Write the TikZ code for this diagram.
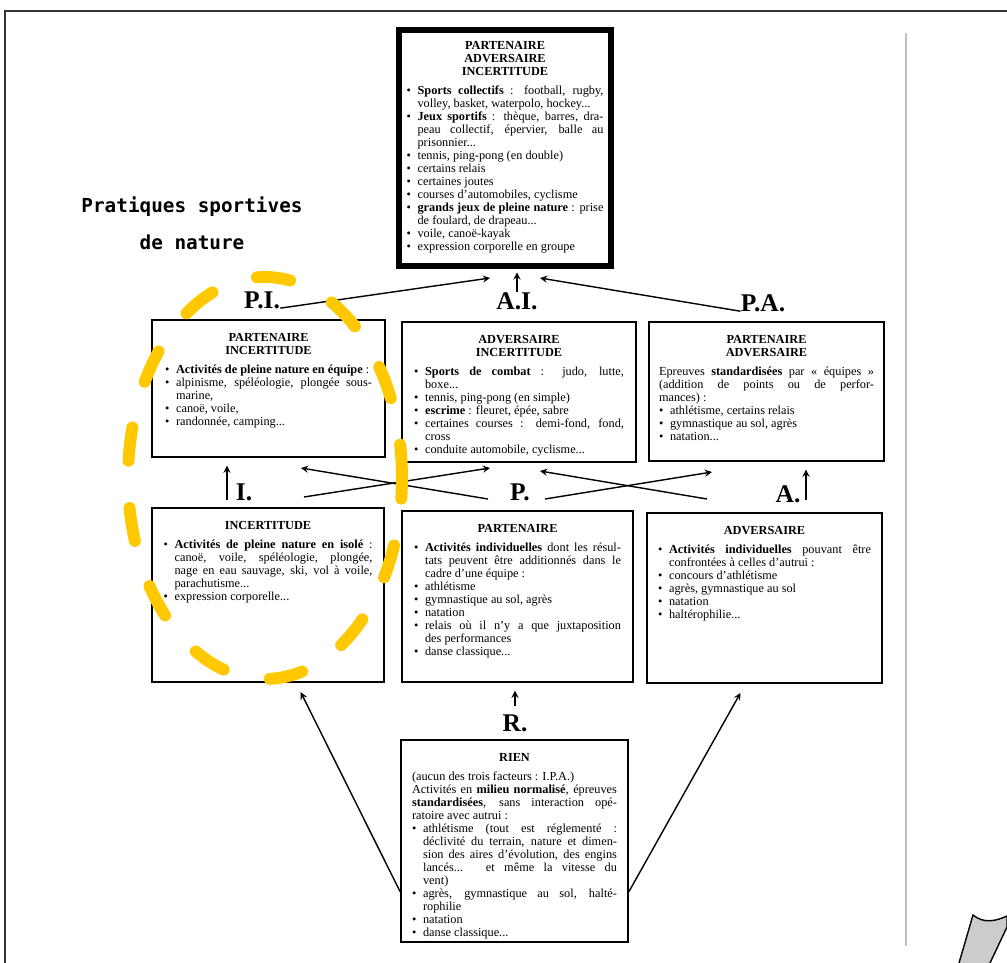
\documentclass[tikz,border=0pt]{standalone}
\usepackage{fontspec}
\setmainfont{Liberation Serif}
\newfontfamily\notefont{DejaVu Sans Mono}
\usetikzlibrary{positioning,calc}

\definecolor{jaune}{RGB}{255,200,0}
\newcommand\puce{\par\hangindent=.9em\hangafter=1\noindent\hbox to .9em{\textbullet\hfil}}
\newcommand\titre[1]{{\centering\bfseries #1\par}\vspace{3.5pt}}

\tikzset{
  boite/.style={draw, line width=.9pt, inner sep=0pt},
  corps/.style={inner sep=0pt, align=justify, font=\fontsize{7}{7.4}\selectfont\sloppy},
  etiq/.style={inner sep=0pt, font=\fontsize{14.5}{14.5}\selectfont\bfseries},
  note/.style={align=center, font=\notefont\fontsize{11}{21}\selectfont\bfseries},
  fleche/.style={->, line width=.8pt, shorten >=4.5pt},
}

\begin{document}
\begin{tikzpicture}[>=stealth, x=0.02cm, y=-0.02cm]
  \useasboundingbox (0,0) rectangle (1007,963);
  % cadre de la page
  \draw[line width=1.2pt, black!80] (5,963) -- (5,11) -- (1007,11);
  \draw[line width=1.2pt, black!25] (906,33) -- (906,946);
  \filldraw[fill=black!20, line width=.8pt] (959,963) -- (973,915) .. controls (984,924) and (996,921) .. (1007,916) -- (1007,927) -- (990,963);

  % boites
  \node[boite, line width=3.4pt, minimum width=4.24cm, minimum height=4.72cm] (top) at (505,148) {};
  \node[boite, minimum width=4.66cm, minimum height=2.74cm] (pi) at (268.5,388.5) {};
  \node[boite, minimum width=4.68cm, minimum height=2.80cm] (ai) at (519,392) {};
  \node[boite, minimum width=4.70cm, minimum height=2.78cm] (pa) at (766.5,391.5) {};
  \node[boite, minimum width=4.64cm, minimum height=3.48cm] (ib) at (268,595) {};
  \node[boite, minimum width=4.62cm, minimum height=3.42cm] (pb) at (517.5,596.5) {};
  \node[boite, minimum width=4.70cm, minimum height=3.40cm] (ab) at (764.5,598) {};
  \node[boite, minimum width=4.54cm, minimum height=4.04cm] (rb) at (514.5,841) {};

  % textes des boites
  \node[corps, text width=3.94cm, below=8pt of top.north] (ttop) {\titre{PARTENAIRE\par ADVERSAIRE\par INCERTITUDE}
    \puce\textbf{Sports collectifs}~: football, rugby,\linebreak volley, basket, waterpolo, hockey...
    \puce\textbf{Jeux sportifs}~: thèque, barres, dra-\linebreak peau collectif, épervier, balle au\linebreak prisonnier...
    \puce tennis, ping-pong (en double)
    \puce certains relais
    \puce certaines joutes
    \puce courses d'automobiles, cyclisme
    \puce\textbf{grands jeux de pleine nature}~: prise\linebreak de foulard, de drapeau...
    \puce voile, canoë-kayak
    \puce expression corporelle en groupe};
  \node[corps, text width=4.14cm, below=8pt of pi.north] (tpi) {\titre{PARTENAIRE\par INCERTITUDE}
    \puce\textbf{Activités de pleine nature en équipe}~:
    \puce alpinisme, spéléologie, plongée sous-\linebreak marine,
    \puce canoë, voile,
    \puce randonnée, camping...};
  \node[corps, text width=4.2cm, below=8pt of ai.north] (tai) {\titre{ADVERSAIRE\par INCERTITUDE}
    \puce\textbf{Sports de combat}~: judo, lutte,\linebreak boxe...
    \puce tennis, ping-pong (en simple)
    \puce\textbf{escrime}~: fleuret, épée, sabre
    \puce certaines courses~: demi-fond, fond,\linebreak cross
    \puce conduite automobile, cyclisme...};
  \node[corps, text width=4.3cm, below=8pt of pa.north] (tpa) {\titre{PARTENAIRE\par ADVERSAIRE}
    \noindent Epreuves \textbf{standardisées} par «~équipes~»\linebreak (addition de points ou de perfor-\linebreak mances)~:
    \puce athlétisme, certains relais
    \puce gymnastique au sol, agrès
    \puce natation...};
  \node[corps, text width=4.18cm, below=8pt of ib.north] (tib) {\titre{INCERTITUDE}
    \puce\textbf{Activités de pleine nature en isolé}~:\linebreak canoë, voile, spéléologie, plongée,\linebreak nage en eau sauvage, ski, vol à voile,\linebreak parachutisme...
    \puce expression corporelle...};
  \node[corps, text width=4.14cm, below=8pt of pb.north] (tpb) {\titre{PARTENAIRE}
    \puce\textbf{Activités individuelles} dont les résul-\linebreak tats peuvent être additionnés dans le\linebreak cadre d'une équipe~:
    \puce athlétisme
    \puce gymnastique au sol, agrès
    \puce natation
    \puce relais où il n'y a que juxtaposition\linebreak des performances
    \puce danse classique...};
  \node[corps, text width=4.26cm, below=8pt of ab.north] (tab) {\titre{ADVERSAIRE}
    \puce\textbf{Activités individuelles} pouvant être\linebreak confrontées à celles d'autrui~:
    \puce concours d'athlétisme
    \puce agrès, gymnastique au sol
    \puce natation
    \puce haltérophilie...};
  \node[corps, text width=4.1cm, below=8pt of rb.north] (trb) {\titre{RIEN}
    \noindent(aucun des trois facteurs~: I.P.A.)\par
    \noindent Activités en \textbf{milieu normalisé}, épreuves\linebreak \textbf{standardisées}, sans interaction opé-\linebreak ratoire avec autrui~:
    \puce athlétisme (tout est réglementé~:\linebreak déclivité du terrain, nature et dimen-\linebreak sion des aires d'évolution, des engins\linebreak lancés... et même la vitesse du\linebreak vent)
    \puce agrès, gymnastique au sol, halté-\linebreak rophilie
    \puce natation
    \puce danse classique...};

  % etiquettes
  \node[etiq] (lpi) at (262,300) {P.I.};
  \node[etiq] (lai) at (517,301) {A.I.};
  \node[etiq] (lpa) at (763,303) {P.A.};
  \node[etiq] (li) at (244,492) {I.};
  \node[etiq] (lp) at (520,492) {P.};
  \node[etiq] (la) at (788,494) {A.};
  \node[etiq] (lr) at (515,723) {R.};
  \node[note] (txt) at (192,223) {Pratiques sportives\\de nature};

  % fleches
  \coordinate (hpi) at (490,278);
  \coordinate (hpa) at (540,278);
  \draw[fleche, shorten >=0pt] (lpi.base east) -- (hpi);
  \draw[fleche, shorten >=0pt] (lpa.base west) -- (hpa);
  \draw[fleche, shorten >=2pt] (lai.north) -- (lai.north |- top.south);
  \coordinate (bi) at (227,500);
  \coordinate (ba) at (806,500);
  \draw[fleche] (bi) -- (bi |- pi.south);
  \draw[fleche] (ba) -- (ba |- pa.south);
  \draw[fleche, shorten <=4.5pt] (lr.north) -- (lr.north |- pb.south);
  \coordinate (xa1) at (488,499); \coordinate (xa2) at (301,468);
  \coordinate (xb1) at (304,497); \coordinate (xb2) at (490,468);
  \coordinate (xc1) at (707,499); \coordinate (xc2) at (540,471);
  \coordinate (xd1) at (545,499); \coordinate (xd2) at (712,472);
  \draw[fleche, shorten >=0pt] (xa1) -- (xa2);
  \draw[fleche, shorten >=0pt] (xb1) -- (xb2);
  \draw[fleche, shorten >=0pt] (xc1) -- (xc2);
  \draw[fleche, shorten >=0pt] (xd1) -- (xd2);
  \draw[fleche, shorten >=6pt] ($(rb.south west)!.25!(rb.north west)$) -- ($(ib.south west)!.62!(ib.south east)$);
  \draw[fleche, shorten >=6pt] ($(rb.south east)!.25!(rb.north east)$) -- ($(ab.south west)!.42!(ab.south east)$);

  % cercle jaune
  \draw[jaune, line width=6.8pt, line cap=round, dash pattern=on 19pt off 27pt] (265,478) ellipse [x radius=2.74cm, y radius=4.02cm];
\end{tikzpicture}
\end{document}
